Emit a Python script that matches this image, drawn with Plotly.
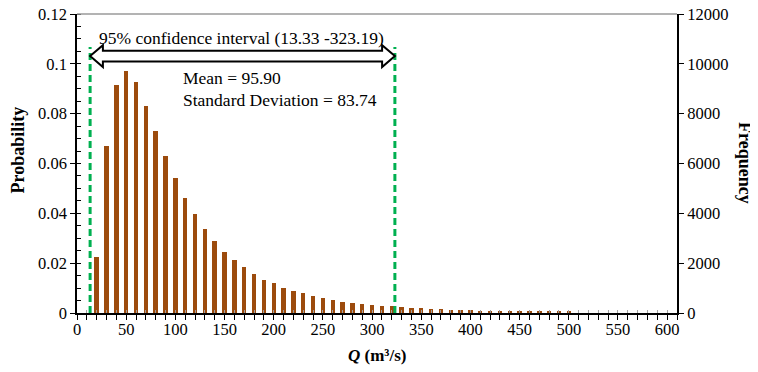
import plotly.graph_objects as go

# ---- data ----
q_values = [20, 30, 40, 50, 60, 70, 80, 90, 100, 110, 120, 130, 140, 150, 160,
            170, 180, 190, 200, 210, 220, 230, 240, 250, 260, 270, 280, 290, 300,
            310, 320, 330, 340, 350, 360, 370, 380, 390, 400, 410, 420, 430, 440,
            450, 460, 470, 480, 490, 500]
probability = [0.0225, 0.0669, 0.0917, 0.0970, 0.0926, 0.0831, 0.0730, 0.0631,
               0.0542, 0.0463, 0.0397, 0.0339, 0.0289, 0.0246, 0.0213, 0.0183,
               0.0157, 0.0134, 0.0119, 0.0101, 0.0090, 0.0079, 0.0069, 0.0061,
               0.0054, 0.0045, 0.0041, 0.0037, 0.0032, 0.0028, 0.0027, 0.0023,
               0.0022, 0.0021, 0.0018, 0.0018, 0.0014, 0.0014, 0.0011, 0.0010,
               0.0010, 0.0009, 0.0008, 0.0007, 0.0006, 0.0006, 0.0006, 0.0006,
               0.0006]
ci_low, ci_high = 13.33, 323.19
mean_q, std_q = 95.90, 83.74
x_ticks = list(range(0, 601, 50))
freq_range = [0, 12000]

FONT = "Liberation Serif, Times New Roman, serif"
BAR = "#9C4B0D"
GREEN = "#00B050"

# the page body has an 8px margin; figure is sized so it fits in the window
OFF = 8
W, Hh = 758 - OFF, 372 - OFF
L, R, T, B = 77 - OFF, 758 - 677, 14 - OFF, 372 - 313
PW, PH = W - L - R, Hh - T - B

fig = go.Figure()
fig.add_trace(go.Bar(x=q_values, y=probability, width=4.5,
                     marker=dict(color=BAR, line=dict(width=0)),
                     showlegend=False, hoverinfo="x+y"))
# empty traces to activate the secondary axes (frequency, inner ticks)
fig.add_trace(go.Scatter(x=[None], y=[None], yaxis="y2", showlegend=False,
                         hoverinfo="skip"))
fig.add_trace(go.Scatter(x=[None], y=[None], xaxis="x2", showlegend=False,
                         hoverinfo="skip"))

# confidence-interval dashed lines
for xv in (ci_low, ci_high):
    fig.add_shape(type="line", xref="x", yref="y", x0=xv, x1=xv, y0=0, y1=0.1068,
                  line=dict(color=GREEN, width=3, dash="7px,4px"), layer="above")

# double-headed block arrow
yc, s, H, h = 0.1031, 0.0022, 0.0044, 13
path = (f"M {ci_low},{yc} L {ci_low+h},{yc+H} L {ci_low+h},{yc+s} "
        f"L {ci_high-h},{yc+s} L {ci_high-h},{yc+H} L {ci_high},{yc} "
        f"L {ci_high-h},{yc-H} L {ci_high-h},{yc-s} L {ci_low+h},{yc-s} "
        f"L {ci_low+h},{yc-H} Z")
fig.add_shape(type="path", xref="x", yref="y", path=path,
              fillcolor="white", line=dict(color="black", width=2), layer="above")

# top border (gray)
fig.add_shape(type="line", xref="paper", yref="paper", x0=0, x1=1, y0=1, y1=1,
              line=dict(color="#9a9a9a", width=1.5))

ann_font = dict(family=FONT, size=17.5, color="black")
fig.add_annotation(x=(ci_low + ci_high) / 2 - 1, y=0.1104, xref="x", yref="y",
                   text=f"95% confidence interval ({ci_low:.2f} -{ci_high:.2f})",
                   showarrow=False, font=ann_font)
fig.add_annotation(x=106, y=0.0943, xref="x", yref="y", xanchor="left",
                   text=f"Mean = {mean_q:.2f}", showarrow=False, font=ann_font)
fig.add_annotation(x=106, y=0.0855, xref="x", yref="y", xanchor="left",
                   text=f"Standard Deviation = {std_q:.2f}", showarrow=False,
                   font=ann_font)


def px(xs, ys):
    """screen pixel -> paper coordinates"""
    return (xs - OFF - L) / PW, (Hh - B - (ys - OFF)) / PH


title_font = dict(family=FONT, size=18, color="black")
for txt, sx, sy, ang, fnt in [
        ("<b>Probability</b>", 17.5, 150, -90, title_font),
        ("<b>Frequency</b>", 745, 163, 90, title_font),
        ("<b><i>Q</i> (m³/s)</b>", 377, 356, 0,
         dict(family=FONT, size=17, color="black"))]:
    x0, y0 = px(sx, sy)
    fig.add_annotation(x=x0, y=y0, xref="paper", yref="paper", text=txt,
                       textangle=ang, showarrow=False, font=fnt,
                       xanchor="center", yanchor="middle")

tick_font = dict(family=FONT, size=16.5, color="black")
fig.update_layout(
    width=W, height=Hh,
    margin=dict(l=L, r=R, t=T, b=B, autoexpand=False),
    paper_bgcolor="white", plot_bgcolor="white",
    font=dict(family=FONT, color="black"),
    bargap=0,
    xaxis=dict(range=[0, 610], tickvals=x_ticks, ticks="outside", ticklen=5,
               tickwidth=1, tickcolor="black", showline=True, linecolor="black",
               linewidth=2, showgrid=False, zeroline=False, tickfont=tick_font,
               automargin=False, ticklabelstandoff=-5,
               ticklabeloverflow="allow",
               minor=dict(dtick=10, tick0=0, ticks="outside", ticklen=5,
                          tickcolor="black", tickwidth=1)),
    xaxis2=dict(range=[0, 610], overlaying="x", side="bottom", dtick=10,
                tick0=0, ticks="inside", ticklen=3, tickcolor="#a0a0a0",
                showticklabels=False, showline=False, showgrid=False,
                zeroline=False, automargin=False),
    yaxis=dict(range=[0, 0.12], dtick=0.02, ticks="outside", ticklen=5,
               tickcolor="black", showline=True, linecolor="black", linewidth=1.5,
               showgrid=False, zeroline=False, tickfont=tick_font,
               automargin=False, ticklabeloverflow="allow",
               minor=dict(dtick=0.005, ticks="inside", ticklen=4,
                          tickcolor="black")),
    yaxis2=dict(range=freq_range, dtick=2000, overlaying="y", side="right",
                ticks="outside", ticklen=5, tickcolor="black", showline=True,
                linecolor="black", linewidth=2, showgrid=False, zeroline=False,
                tickformat="d", automargin=False, ticklabeloverflow="allow",
                tickfont=tick_font),
)

fig.write_html("out.html")
